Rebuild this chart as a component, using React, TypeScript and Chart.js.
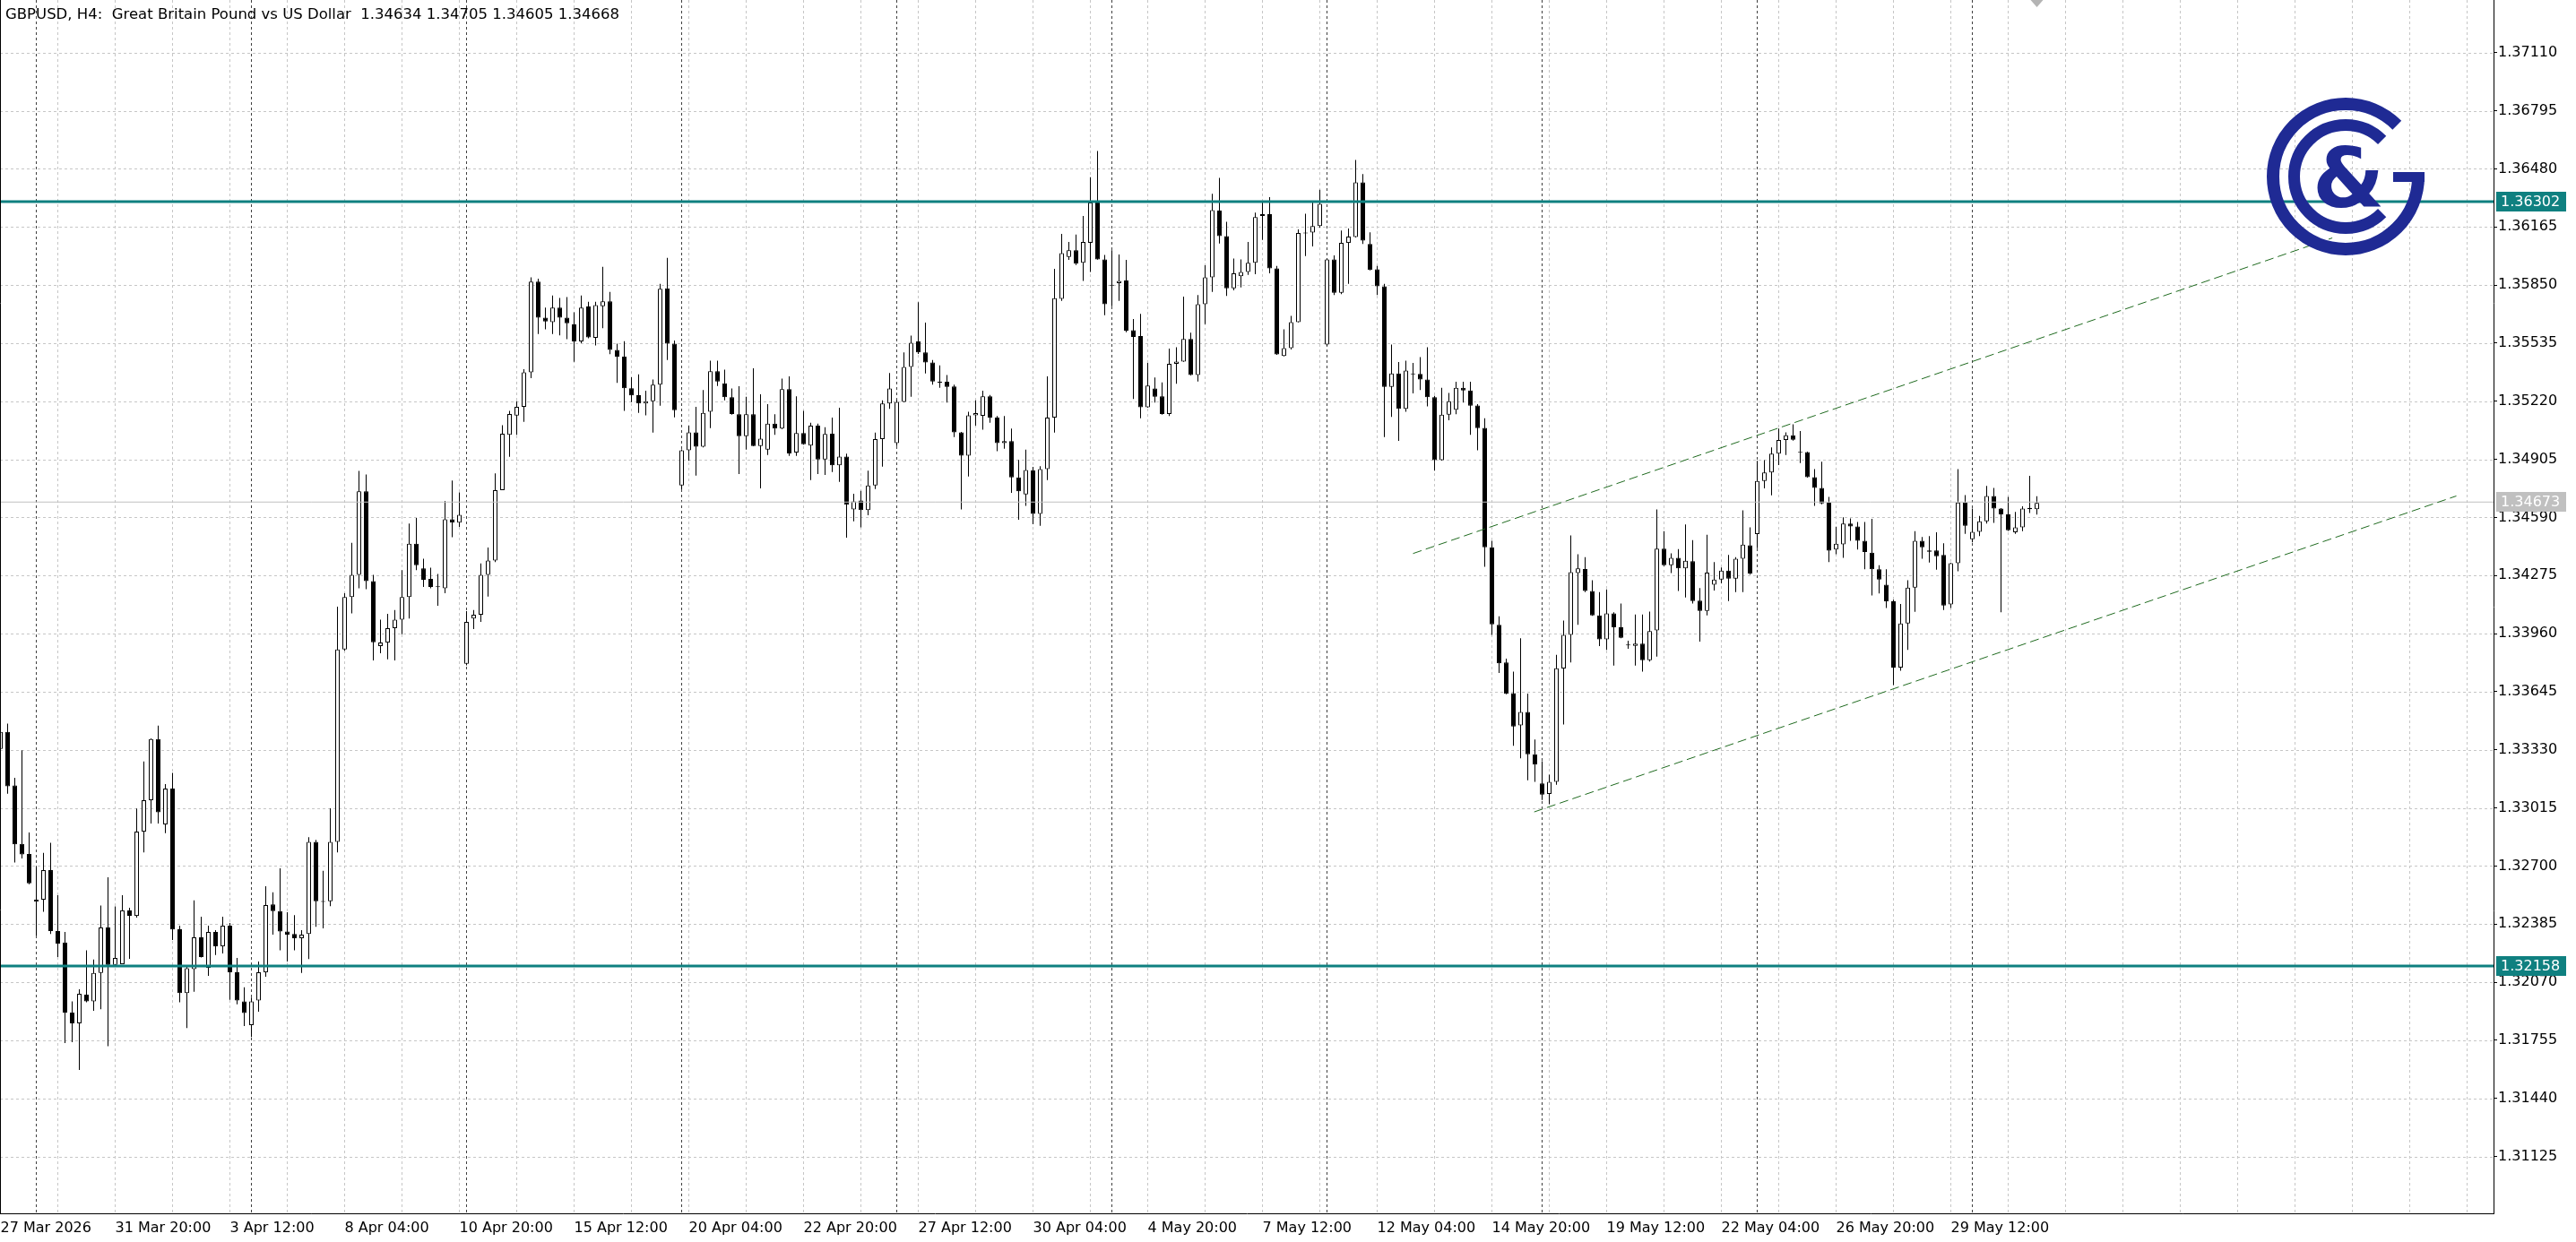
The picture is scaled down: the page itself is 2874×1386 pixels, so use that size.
import { useEffect, useRef } from 'react';
import { Chart, registerables } from 'chart.js';

Chart.register(...registerables);

// ---- Data (GBPUSD H4, candle index 0 = 27 Mar 2026 04:00) ----
const OPEN = [
  1.33335, 1.33427, 1.33136, 1.32820, 1.32765, 1.32507, 1.32517, 1.32677, 1.32347, 1.32285,
  1.31905, 1.31847, 1.32002, 1.31966, 1.32120, 1.32366, 1.32164, 1.32167, 1.32459, 1.32429,
  1.32886, 1.33056, 1.33388, 1.32925, 1.33119, 1.32357, 1.32010, 1.32140, 1.32313, 1.32148,
  1.32342, 1.32264, 1.32376, 1.32123, 1.31966, 1.31837, 1.31970, 1.32123, 1.32491, 1.32455,
  1.32344, 1.32331, 1.32308, 1.32331, 1.32830, 1.32505, 1.32508, 1.32830, 1.33874, 1.34158,
  1.34278, 1.34731, 1.34244, 1.33892, 1.33911, 1.33989, 1.34036, 1.34158, 1.34447, 1.34314,
  1.34257, 1.34215, 1.34205, 1.34580, 1.34561, 1.33796, 1.34041, 1.34062, 1.34278, 1.34356,
  1.34738, 1.35038, 1.35142, 1.35189, 1.35376, 1.35868, 1.35673, 1.35649, 1.35728, 1.35673,
  1.35636, 1.35544, 1.35733, 1.35564, 1.35735, 1.35761, 1.35498, 1.35462, 1.35290, 1.35252,
  1.35208, 1.35220, 1.35309, 1.35832, 1.35532, 1.34763, 1.34954, 1.35051, 1.34973, 1.35163,
  1.35382, 1.35317, 1.35241, 1.35149, 1.35030, 1.35149, 1.34977, 1.34957, 1.35098, 1.35071,
  1.35285, 1.34941, 1.35047, 1.34979, 1.35087, 1.34904, 1.35044, 1.34872, 1.34920, 1.34633,
  1.34682, 1.34629, 1.34763, 1.35014, 1.35208, 1.34993, 1.35216, 1.35406, 1.35544, 1.35484,
  1.35430, 1.35324, 1.35325, 1.35300, 1.35051, 1.34925, 1.35143, 1.35141, 1.35246, 1.35131,
  1.34993, 1.35003, 1.34807, 1.34714, 1.34844, 1.34609, 1.34852, 1.35131, 1.35775, 1.36002,
  1.36038, 1.35970, 1.36079, 1.36297, 1.35989, 1.35850, 1.35860, 1.35874, 1.35605, 1.35573,
  1.35187, 1.35289, 1.35246, 1.35151, 1.35422, 1.35435, 1.35557, 1.35362, 1.35746, 1.35892,
  1.36253, 1.36115, 1.35832, 1.35897, 1.35921, 1.35970, 1.36224, 1.36234, 1.35940, 1.35465,
  1.35508, 1.35649, 1.36134, 1.36134, 1.36169, 1.35527, 1.35989, 1.35808, 1.36078, 1.36110,
  1.36407, 1.36072, 1.35935, 1.35843, 1.35297, 1.35370, 1.35179, 1.35368, 1.35368, 1.35338,
  1.35241, 1.34900, 1.35147, 1.35173, 1.35293, 1.35278, 1.35197, 1.35075, 1.34428, 1.34007,
  1.33803, 1.33637, 1.33462, 1.33535, 1.33305, 1.33148, 1.33090, 1.33156, 1.33770, 1.33953,
  1.34288, 1.34310, 1.34191, 1.34058, 1.33929, 1.34070, 1.33994, 1.33897, 1.33893, 1.33905,
  1.33816, 1.33977, 1.34420, 1.34331, 1.34371, 1.34314, 1.34353, 1.34139, 1.34083, 1.34225,
  1.34253, 1.34301, 1.34258, 1.34366, 1.34439, 1.34499, 1.34787, 1.34833, 1.34936, 1.35009,
  1.35035, 1.34942, 1.34944, 1.34808, 1.34750, 1.34669, 1.34415, 1.34444, 1.34556, 1.34541,
  1.34463, 1.34399, 1.34309, 1.34225, 1.34135, 1.33775, 1.34015, 1.34209, 1.34463, 1.34411,
  1.34411, 1.34386, 1.34118, 1.34342, 1.34671, 1.34471, 1.34512, 1.34569, 1.34706, 1.34638,
  1.34606, 1.34509, 1.34536, 1.34641, 1.34634,
];
const HIGH = [
  1.33440, 1.33472, 1.33178, 1.33327, 1.32881, 1.32695, 1.32771, 1.32825, 1.32541, 1.32342,
  1.31966, 1.32031, 1.32242, 1.32193, 1.32485, 1.32638, 1.32481, 1.32541, 1.32473, 1.33011,
  1.33267, 1.33392, 1.33461, 1.33144, 1.33205, 1.32376, 1.32153, 1.32514, 1.32425, 1.32376,
  1.32352, 1.32425, 1.32391, 1.32201, 1.32042, 1.31986, 1.32182, 1.32590, 1.32557, 1.32687,
  1.32449, 1.32433, 1.32352, 1.32856, 1.32841, 1.32674, 1.33013, 1.34106, 1.34179, 1.34452,
  1.34842, 1.34822, 1.34278, 1.34036, 1.34067, 1.34088, 1.34304, 1.34556, 1.34587, 1.34366,
  1.34317, 1.34283, 1.34679, 1.34790, 1.34725, 1.34082, 1.34088, 1.34340, 1.34426, 1.34829,
  1.35090, 1.35168, 1.35220, 1.35394, 1.35892, 1.35884, 1.35728, 1.35793, 1.35780, 1.35785,
  1.35702, 1.35793, 1.35759, 1.35759, 1.35949, 1.35813, 1.35532, 1.35545, 1.35350, 1.35365,
  1.35277, 1.35338, 1.35856, 1.35997, 1.35549, 1.34958, 1.35087, 1.35189, 1.35281, 1.35440,
  1.35440, 1.35391, 1.35289, 1.35301, 1.35244, 1.35398, 1.35257, 1.35204, 1.35149, 1.35343,
  1.35354, 1.35247, 1.35168, 1.35103, 1.35098, 1.35079, 1.35131, 1.35184, 1.34936, 1.34718,
  1.34734, 1.34843, 1.35050, 1.35224, 1.35373, 1.35228, 1.35484, 1.35576, 1.35756, 1.35646,
  1.35443, 1.35414, 1.35362, 1.35309, 1.35053, 1.35163, 1.35224, 1.35277, 1.35254, 1.35139,
  1.35140, 1.35071, 1.34901, 1.34957, 1.34864, 1.34868, 1.35354, 1.35937, 1.36127, 1.36083,
  1.36123, 1.36224, 1.36434, 1.36577, 1.36013, 1.36038, 1.36015, 1.35986, 1.35665, 1.35694,
  1.35427, 1.35349, 1.35322, 1.35505, 1.35513, 1.35787, 1.35592, 1.35795, 1.35957, 1.36345,
  1.36431, 1.36193, 1.35994, 1.35989, 1.36083, 1.36242, 1.36302, 1.36326, 1.35953, 1.35610,
  1.35683, 1.36151, 1.36237, 1.36297, 1.36366, 1.35994, 1.36010, 1.36145, 1.36156, 1.36528,
  1.36452, 1.36136, 1.35953, 1.35856, 1.35527, 1.35432, 1.35440, 1.35427, 1.35459, 1.35513,
  1.35249, 1.35293, 1.35265, 1.35325, 1.35325, 1.35325, 1.35204, 1.35127, 1.34463, 1.34054,
  1.33824, 1.33754, 1.33934, 1.33634, 1.33386, 1.33268, 1.33195, 1.33845, 1.34031, 1.34492,
  1.34390, 1.34374, 1.34249, 1.34185, 1.34199, 1.34075, 1.34123, 1.33921, 1.34063, 1.34063,
  1.34079, 1.34633, 1.34515, 1.34395, 1.34418, 1.34552, 1.34467, 1.34207, 1.34496, 1.34347,
  1.34318, 1.34386, 1.34374, 1.34628, 1.34536, 1.34897, 1.34900, 1.34969, 1.35071, 1.35051,
  1.35095, 1.35058, 1.34946, 1.34852, 1.34892, 1.34701, 1.34539, 1.34590, 1.34585, 1.34565,
  1.34565, 1.34582, 1.34330, 1.34309, 1.34144, 1.34120, 1.34249, 1.34515, 1.34484, 1.34488,
  1.34509, 1.34450, 1.34344, 1.34852, 1.34711, 1.34638, 1.34598, 1.34760, 1.34750, 1.34640,
  1.34701, 1.34620, 1.34650, 1.34815, 1.34705,
];
const LOW = [
  1.33320, 1.33092, 1.32719, 1.32740, 1.32601, 1.32323, 1.32452, 1.32331, 1.32206, 1.31740,
  1.31744, 1.31594, 1.31961, 1.31914, 1.31923, 1.31723, 1.32164, 1.32167, 1.32196, 1.32420,
  1.32773, 1.32930, 1.32930, 1.32878, 1.32298, 1.31961, 1.31821, 1.32018, 1.32204, 1.32104,
  1.32217, 1.32225, 1.31974, 1.31950, 1.31832, 1.31772, 1.31910, 1.32099, 1.32327, 1.32242,
  1.32182, 1.32242, 1.32120, 1.32195, 1.32370, 1.32362, 1.32482, 1.32773, 1.33866, 1.34069,
  1.34205, 1.34200, 1.33814, 1.33853, 1.33820, 1.33814, 1.33957, 1.34041, 1.34304, 1.34213,
  1.34205, 1.34111, 1.34179, 1.34483, 1.34538, 1.33788, 1.33984, 1.34023, 1.34161, 1.34348,
  1.34738, 1.34918, 1.35038, 1.35108, 1.35345, 1.35584, 1.35610, 1.35584, 1.35577, 1.35556,
  1.35433, 1.35534, 1.35561, 1.35522, 1.35616, 1.35475, 1.35319, 1.35168, 1.35215, 1.35157,
  1.35143, 1.35050, 1.35196, 1.35443, 1.35132, 1.34742, 1.34896, 1.34817, 1.34970, 1.35074,
  1.35302, 1.35224, 1.35147, 1.34825, 1.34957, 1.34975, 1.34747, 1.34928, 1.35038, 1.35068,
  1.34923, 1.34923, 1.34984, 1.34792, 1.34825, 1.34820, 1.34836, 1.34782, 1.34480, 1.34569,
  1.34536, 1.34601, 1.34744, 1.34865, 1.35179, 1.34977, 1.35214, 1.35244, 1.35476, 1.35370,
  1.35309, 1.35293, 1.35212, 1.35025, 1.34633, 1.34812, 1.35087, 1.35066, 1.35103, 1.34949,
  1.34962, 1.34723, 1.34577, 1.34653, 1.34553, 1.34544, 1.34792, 1.35050, 1.35764, 1.35986,
  1.35958, 1.35872, 1.35921, 1.35987, 1.35686, 1.35735, 1.35764, 1.35594, 1.35232, 1.35127,
  1.35185, 1.35212, 1.35147, 1.35139, 1.35314, 1.35433, 1.35360, 1.35327, 1.35638, 1.35813,
  1.36075, 1.35791, 1.35821, 1.35837, 1.35905, 1.35908, 1.36094, 1.35913, 1.35471, 1.35463,
  1.35500, 1.35647, 1.36007, 1.36059, 1.36161, 1.35520, 1.35795, 1.35800, 1.35856, 1.36108,
  1.36072, 1.35929, 1.35796, 1.35025, 1.35135, 1.35005, 1.35163, 1.35262, 1.35281, 1.35192,
  1.34843, 1.34898, 1.35116, 1.35149, 1.35213, 1.35038, 1.34954, 1.34322, 1.33953, 1.33746,
  1.33631, 1.33351, 1.33284, 1.33164, 1.33156, 1.33058, 1.33035, 1.33140, 1.33467, 1.33803,
  1.34007, 1.34185, 1.34056, 1.33892, 1.33872, 1.33786, 1.33934, 1.33877, 1.33786, 1.33754,
  1.33808, 1.33835, 1.34326, 1.34288, 1.34191, 1.34156, 1.34123, 1.33916, 1.34058, 1.34193,
  1.34232, 1.34136, 1.34185, 1.34185, 1.34280, 1.34423, 1.34747, 1.34709, 1.34873, 1.34928,
  1.35006, 1.34884, 1.34806, 1.34653, 1.34661, 1.34347, 1.34390, 1.34371, 1.34463, 1.34415,
  1.34309, 1.34167, 1.34177, 1.34099, 1.33681, 1.33759, 1.33872, 1.34078, 1.34366, 1.34345,
  1.34306, 1.34088, 1.34099, 1.34298, 1.34501, 1.34455, 1.34488, 1.34557, 1.34560, 1.34075,
  1.34517, 1.34501, 1.34515, 1.34614, 1.34605,
];
const CLOSE = [
  1.33427, 1.33132, 1.32817, 1.32763, 1.32606, 1.32517, 1.32677, 1.32347, 1.32279, 1.31905,
  1.31847, 1.32007, 1.31966, 1.32120, 1.32366, 1.32164, 1.32201, 1.32459, 1.32429, 1.32886,
  1.33056, 1.33388, 1.32991, 1.33119, 1.32355, 1.32010, 1.32145, 1.32313, 1.32206, 1.32342,
  1.32264, 1.32376, 1.32123, 1.31970, 1.31902, 1.31966, 1.32123, 1.32488, 1.32455, 1.32344,
  1.32327, 1.32308, 1.32327, 1.32830, 1.32508, 1.32510, 1.32830, 1.33874, 1.34158, 1.34278,
  1.34731, 1.34244, 1.33913, 1.33911, 1.33989, 1.34036, 1.34158, 1.34447, 1.34330, 1.34252,
  1.34213, 1.34211, 1.34580, 1.34561, 1.34604, 1.34023, 1.34062, 1.34278, 1.34356, 1.34738,
  1.35043, 1.35150, 1.35189, 1.35376, 1.35868, 1.35673, 1.35652, 1.35728, 1.35673, 1.35642,
  1.35544, 1.35728, 1.35566, 1.35741, 1.35761, 1.35498, 1.35462, 1.35290, 1.35251, 1.35208,
  1.35220, 1.35309, 1.35829, 1.35532, 1.35171, 1.34954, 1.35051, 1.34973, 1.35157, 1.35382,
  1.35327, 1.35241, 1.35151, 1.35030, 1.35149, 1.34977, 1.35017, 1.35098, 1.35071, 1.35285,
  1.34937, 1.35047, 1.34986, 1.35087, 1.34904, 1.35042, 1.34872, 1.34920, 1.34658, 1.34677,
  1.34629, 1.34763, 1.35014, 1.35208, 1.35289, 1.35216, 1.35406, 1.35537, 1.35484, 1.35430,
  1.35327, 1.35320, 1.35297, 1.35051, 1.34925, 1.35143, 1.35155, 1.35246, 1.35131, 1.34993,
  1.35003, 1.34807, 1.34731, 1.34847, 1.34609, 1.34852, 1.35131, 1.35779, 1.36023, 1.36038,
  1.35966, 1.36083, 1.36297, 1.35989, 1.35746, 1.35846, 1.35872, 1.35602, 1.35568, 1.35187,
  1.35305, 1.35244, 1.35151, 1.35422, 1.35435, 1.35557, 1.35362, 1.35746, 1.35892, 1.36256,
  1.36115, 1.35832, 1.35913, 1.35921, 1.35970, 1.36218, 1.36234, 1.35940, 1.35473, 1.35508,
  1.35649, 1.36132, 1.36130, 1.36169, 1.36290, 1.35989, 1.35808, 1.36078, 1.36112, 1.36407,
  1.36091, 1.35932, 1.35843, 1.35297, 1.35370, 1.35179, 1.35386, 1.35366, 1.35338, 1.35241,
  1.34900, 1.35147, 1.35220, 1.35293, 1.35278, 1.35196, 1.35074, 1.34428, 1.34010, 1.33799,
  1.33633, 1.33456, 1.33535, 1.33305, 1.33249, 1.33087, 1.33156, 1.33772, 1.33953, 1.34293,
  1.34313, 1.34191, 1.34058, 1.33929, 1.34070, 1.33994, 1.33937, 1.33896, 1.33905, 1.33816,
  1.33973, 1.34420, 1.34331, 1.34371, 1.34314, 1.34355, 1.34136, 1.34083, 1.34290, 1.34253,
  1.34301, 1.34258, 1.34366, 1.34442, 1.34285, 1.34787, 1.34833, 1.34936, 1.35009, 1.35035,
  1.35011, 1.34940, 1.34808, 1.34750, 1.34666, 1.34410, 1.34447, 1.34556, 1.34541, 1.34463,
  1.34402, 1.34309, 1.34253, 1.34135, 1.33775, 1.34015, 1.34209, 1.34463, 1.34428, 1.34404,
  1.34379, 1.34112, 1.34342, 1.34671, 1.34544, 1.34512, 1.34569, 1.34706, 1.34638, 1.34606,
  1.34520, 1.34536, 1.34638, 1.34634, 1.34668,
];

const DATE_LABELS = [
  '27 Mar 2026', '31 Mar 20:00', '3 Apr 12:00', '8 Apr 04:00', '10 Apr 20:00', '15 Apr 12:00',
  '20 Apr 04:00', '22 Apr 20:00', '27 Apr 12:00', '30 Apr 04:00', '4 May 20:00', '7 May 12:00',
  '12 May 04:00', '14 May 20:00', '19 May 12:00', '22 May 04:00', '26 May 20:00', '29 May 12:00',
];
const LABEL_STEP = 16; // candles between date labels
const GRID_STEP = 8; // candles between vertical grid lines
const WEEK_STARTS = [5, 35, 65, 95, 125, 155, 185, 215, 245, 275];

const PRICE_TICKS = [
  1.31125, 1.3144, 1.31755, 1.3207, 1.32385, 1.327, 1.33015, 1.3333, 1.33645, 1.3396,
  1.34275, 1.3459, 1.34905, 1.3522, 1.35535, 1.3585, 1.36165, 1.3648, 1.36795, 1.3711,
];
const LEVELS = [1.36302, 1.32158];
const BID = 1.34673;
const UPPER_CHANNEL_X = [197, 325.2];
const UPPER_CHANNEL_Y = [1.34394, 1.36105];
const LOWER_CHANNEL_X = [213.9, 342.5];
const LOWER_CHANNEL_Y = [1.32993, 1.34706];

const TITLE = 'GBPUSD, H4:  Great Britain Pound vs US Dollar  1.34634 1.34705 1.34605 1.34668';

// ---- view / style ----
const X_MIN = -0.0625;
const X_MAX = 347.6875;
const Y_MIN = 1.308165;
const Y_MAX = 1.373952;
const W = 2874;
const H = 1386;
const FONT = '"DejaVu Sans"';
const TEAL = '#0f8080';
const GRID = '#c6c6c6';
const SEP = '#404040';
const LOGO = '#1f2a94';
const CHANNEL = '#1f6a1f';

const mtPlugin = {
  id: 'mt',
  beforeDatasetsDraw(chart: any) {
    const { ctx, chartArea, scales } = chart;
    const { left, right, top, bottom } = chartArea;
    const x = scales.x;
    const y = scales.y;
    ctx.save();
    ctx.lineWidth = 1;
    ctx.setLineDash([3, 3]);
    ctx.strokeStyle = GRID;
    ctx.beginPath();
    for (const p of PRICE_TICKS) {
      const py = Math.round(y.getPixelForValue(p)) + 0.5;
      ctx.moveTo(left, py);
      ctx.lineTo(right, py);
    }
    for (let n = GRID_STEP; ; n += GRID_STEP) {
      const px = Math.floor(x.getPixelForValue(n)) + 0.5;
      if (px >= right) break;
      ctx.moveTo(px, top);
      ctx.lineTo(px, bottom);
    }
    ctx.stroke();
    ctx.strokeStyle = SEP;
    ctx.beginPath();
    for (const n of WEEK_STARTS) {
      const px = Math.floor(x.getPixelForValue(n)) + 0.5;
      if (px >= right) continue;
      ctx.moveTo(px, top);
      ctx.lineTo(px, bottom);
    }
    ctx.stroke();
    ctx.restore();
  },
  afterDraw(chart: any) {
    const { ctx, chartArea, scales } = chart;
    const { left, right, top, bottom } = chartArea;
    const x = scales.x;
    const y = scales.y;
    ctx.save();
    // left frame
    ctx.strokeStyle = '#000';
    ctx.lineWidth = 1;
    ctx.beginPath();
    ctx.moveTo(left + 0.5, top);
    ctx.lineTo(left + 0.5, bottom);
    ctx.stroke();

    // title
    ctx.fillStyle = '#000';
    ctx.font = `16.5px ${FONT}`;
    ctx.textAlign = 'left';
    ctx.textBaseline = 'alphabetic';
    ctx.fillText(TITLE, 6, 21);

    // chart-shift marker
    const mx = Math.floor(x.getPixelForValue(CLOSE.length - 1)) + 0.5;
    ctx.fillStyle = '#b4b4b4';
    ctx.beginPath();
    ctx.moveTo(mx - 7, top);
    ctx.lineTo(mx + 7, top);
    ctx.lineTo(mx, top + 8);
    ctx.closePath();
    ctx.fill();

    // logo
    const cx = 2617;
    const cy = 197;
    ctx.strokeStyle = LOGO;
    ctx.fillStyle = LOGO;
    ctx.lineCap = 'butt';
    ctx.lineWidth = 14;
    ctx.beginPath();
    ctx.arc(cx, cy, 81, 0, (Math.PI * 2 * 315) / 360);
    ctx.stroke();
    ctx.fillRect(cx + 53, cy - 5, 35, 11);
    ctx.lineWidth = 13;
    ctx.beginPath();
    ctx.arc(cx, cy, 57.5, Math.PI / 4, (Math.PI * 2 * 315) / 360);
    ctx.stroke();
    ctx.font = `bold 92px ${FONT}`;
    ctx.textAlign = 'center';
    ctx.fillText('&', cx + 3, cy + 34);

    // price boxes on axis
    const box = (price: number, bg: string) => {
      const py = y.getPixelForValue(price);
      ctx.fillStyle = bg;
      ctx.fillRect(right + 3, Math.round(py) - 11, 78, 22);
      ctx.fillStyle = '#fff';
      ctx.font = `16px ${FONT}`;
      ctx.textAlign = 'left';
      ctx.textBaseline = 'middle';
      ctx.fillText(price.toFixed(5), right + 8, Math.round(py) + 1);
    };
    box(BID, '#c0c0c0');
    for (const l of LEVELS) box(l, TEAL);
    ctx.restore();
  },
};

export default function App() {
  const ref = useRef<HTMLCanvasElement | null>(null);
  useEffect(() => {
    document.body.style.margin = '0';
    const canvas = ref.current;
    if (!canvas) return;
    const idx = CLOSE.map((_, i) => i);
    const bodyColors = idx.map((i) => (CLOSE[i] >= OPEN[i] ? '#ffffff' : '#000000'));
    const hline = (v: number) => [
      { x: X_MIN, y: v },
      { x: X_MAX, y: v },
    ];
    const chart = new Chart(canvas, {
      type: 'bar',
      data: {
        datasets: [
          {
            type: 'bar',
            data: idx.map((i) => ({ x: i, y: [LOW[i], HIGH[i]] })),
            backgroundColor: '#000',
            borderWidth: 0,
            barThickness: 1,
            maxBarThickness: 1,
            grouped: false,
            inflateAmount: 0,
            order: 5,
          } as any,
          {
            type: 'bar',
            data: idx.map((i) => ({ x: i, y: [OPEN[i], CLOSE[i]] })),
            backgroundColor: bodyColors,
            borderColor: '#000',
            borderWidth: 1,
            borderSkipped: false,
            barThickness: 5,
            maxBarThickness: 5,
            minBarLength: 1,
            grouped: false,
            inflateAmount: 0,
            order: 4,
          } as any,
          {
            type: 'line',
            data: hline(BID),
            borderColor: '#c0c0c0',
            borderWidth: 1,
            pointRadius: 0,
            order: 3,
          } as any,
          ...LEVELS.map(
            (l) =>
              ({
                type: 'line',
                data: hline(l),
                borderColor: TEAL,
                borderWidth: 3,
                pointRadius: 0,
                order: 2,
              }) as any,
          ),
          {
            type: 'line',
            data: UPPER_CHANNEL_X.map((v, i) => ({ x: v, y: UPPER_CHANNEL_Y[i] })),
            borderColor: CHANNEL,
            borderWidth: 1,
            borderDash: [10, 5],
            pointRadius: 0,
            order: 1,
          } as any,
          {
            type: 'line',
            data: LOWER_CHANNEL_X.map((v, i) => ({ x: v, y: LOWER_CHANNEL_Y[i] })),
            borderColor: CHANNEL,
            borderWidth: 1,
            borderDash: [10, 5],
            pointRadius: 0,
            order: 1,
          } as any,
        ],
      },
      options: {
        animation: false,
        responsive: false,
        events: [],
        layout: { padding: 0 },
        plugins: { legend: { display: false }, tooltip: { enabled: false } },
        scales: {
          x: {
            type: 'linear',
            position: 'bottom',
            min: X_MIN,
            max: X_MAX,
            offset: false,
            bounds: 'data',
            grid: { display: false, drawTicks: false },
            border: { display: true, color: '#000', width: 1 },
            afterBuildTicks: (s: any) => {
              s.ticks = DATE_LABELS.map((_, i) => ({ value: i * LABEL_STEP }));
            },
            afterFit: (s: any) => {
              s.height = 32;
              s.paddingLeft = 0;
              s.paddingRight = 0;
            },
            ticks: {
              autoSkip: false,
              maxRotation: 0,
              minRotation: 0,
              align: 'start',
              padding: 7,
              color: '#000',
              font: { family: 'DejaVu Sans', size: 16 },
              callback: (_v: any, i: number) => DATE_LABELS[i],
            },
          } as any,
          y: {
            type: 'linear',
            position: 'right',
            min: Y_MIN,
            max: Y_MAX,
            bounds: 'data',
            grid: { drawOnChartArea: false, drawTicks: true, tickLength: 4, color: '#000' },
            border: { display: true, color: '#000', width: 1 },
            afterBuildTicks: (s: any) => {
              s.ticks = PRICE_TICKS.map((v) => ({ value: v }));
            },
            afterFit: (s: any) => {
              s.width = 92;
              s.paddingTop = 0;
              s.paddingBottom = 0;
            },
            ticks: {
              padding: 1,
              color: '#000',
              font: { family: 'DejaVu Sans', size: 16 },
              callback: (v: any) => Number(v).toFixed(5),
            },
          } as any,
        },
      },
      plugins: [mtPlugin],
    });
    return () => chart.destroy();
  }, []);
  return <canvas ref={ref} width={W} height={H} style={{ display: 'block', width: W, height: H }} />;
}
